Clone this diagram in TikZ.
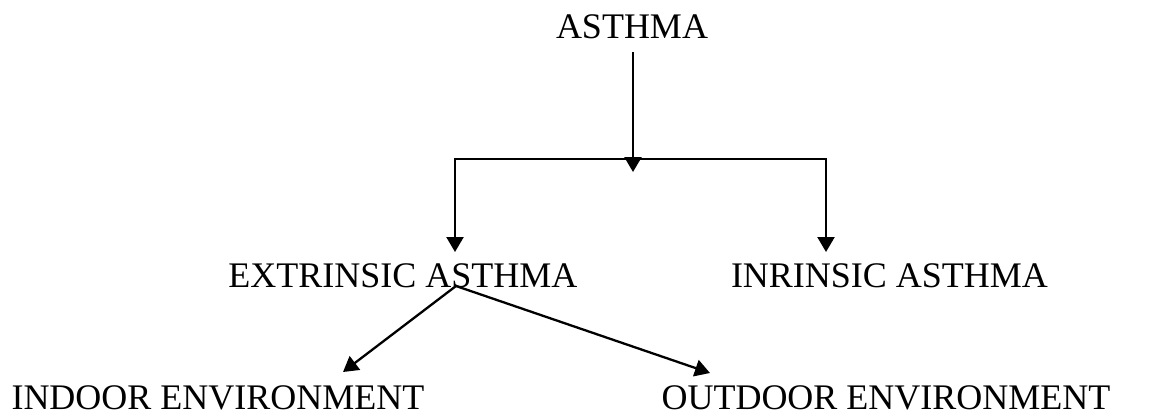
\documentclass[tikz,border=0pt]{standalone}
\usepackage{fontspec}
\setmainfont{Liberation Serif}
\usetikzlibrary{arrows.meta}
\begin{document}
\begin{tikzpicture}[x=1pt,y=-1pt,
  lbl/.style={inner sep=0pt,anchor=base,text depth=0pt,font=\fontsize{36}{40}\selectfont},
  arr/.style={line width=2.3pt,-{Triangle[length=15pt,width=17pt]}}]
\useasboundingbox (0,0) rectangle (1161,413);
\node[lbl] (asthma) at (632,38) {ASTHMA};
\node[lbl] (ext) at (403,287) {EXTRINSIC ASTHMA};
\node[lbl] (intr) at (889.5,287) {INRINSIC ASTHMA};
\node[lbl] (indoor) at (218,409.5) {INDOOR ENVIRONMENT};
\node[lbl] (outdoor) at (886,409.5) {OUTDOOR ENVIRONMENT};
\coordinate (top) at (633,52);
\coordinate (mid) at (633,172);
\coordinate (bar) at (633,159);
\coordinate (tipL) at (455,252);
\coordinate (tipR) at (826,252);
\coordinate (src) at (456,286);
\coordinate (tipIn) at (343,372);
\coordinate (tipOut) at (710,373);
\draw[arr] (top) -- (mid);
\draw[arr] (bar) -| (tipL);
\draw[arr] (bar) -| (tipR);
\draw[arr] (src) -- (tipIn);
\draw[arr] (src) -- (tipOut);
\end{tikzpicture}
\end{document}
